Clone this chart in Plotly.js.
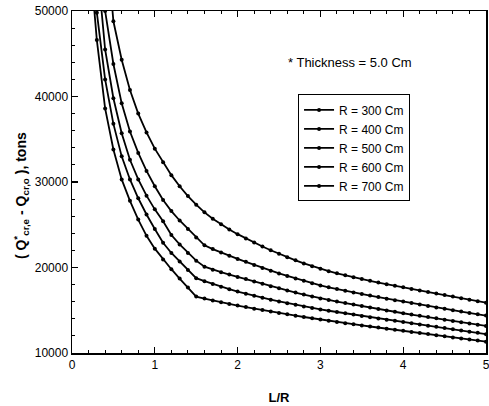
<!DOCTYPE html>
<html>
<head>
<meta charset="utf-8">
<script src="https://cdn.plot.ly/plotly-3.0.1.min.js"></script>
<style>
html, body { margin: 0; padding: 0; background: #fff; }
#chart { width: 489px; height: 406px; }
</style>
</head>
<body>
<div id="chart"></div>
<script>
// L/R values (0.2 .. 5.0, step 0.1)
const LR = [0.2,0.3,0.4,0.5,0.6,0.7,0.8,0.9,1.0,1.1,1.2,1.3,1.4,1.5,1.6,1.7,1.8,1.9,2.0,
  2.1,2.2,2.3,2.4,2.5,2.6,2.7,2.8,2.9,3.0,3.1,3.2,3.3,3.4,3.5,3.6,3.7,3.8,3.9,4.0,
  4.1,4.2,4.3,4.4,4.5,4.6,4.7,4.8,4.9,5.0];

const seriesNames = ["R = 300 Cm", "R = 400 Cm", "R = 500 Cm", "R = 600 Cm", "R = 700 Cm"];

const R300 = [58000,46600,38600,33800,30300,27800,25600,23700,22200,20950,19800,18700,17650,16600,
  16370,16150,15940,15740,15550,15370,15190,15020,14850,14690,14530,14370,14210,14060,13910,
  13770,13630,13490,13360,13230,13100,12970,12840,12720,12600,12470,12340,12210,12080,11950,
  11820,11700,11580,11450,11330];

const R400 = [62000,49800,42000,36800,33000,30300,28100,26200,24500,22900,21700,20700,19700,18750,
  18400,18070,17760,17470,17190,16930,16690,16460,16240,16030,15830,15640,15450,15270,15090,
  14940,14790,14640,14490,14340,14190,14040,13900,13760,13620,13480,13340,13200,13060,12920,
  12780,12640,12500,12360,12200];

const R500 = [null,56000,45500,39800,35700,32600,30300,28400,26800,25400,23800,22700,21700,20800,
  20100,19750,19450,19170,18900,18650,18370,18090,17820,17560,17310,17070,16840,16610,16380,
  16200,16020,15840,15660,15490,15320,15150,14980,14810,14650,14500,14350,14200,14050,13900,
  13750,13600,13450,13300,13160];

const R600 = [null,62000,50000,43800,39200,35900,33400,31300,29500,27900,26600,25500,24500,23500,
  22600,22150,21740,21360,21000,20660,20300,19955,19625,19310,19010,18720,18440,18165,17900,
  17680,17472,17274,17084,16899,16717,16537,16359,16184,16010,15838,15668,15500,15335,15172,
  15010,14850,14692,14535,14380];

const R700 = [null,null,60000,48800,44300,40760,38000,35800,33900,32300,30800,29500,28350,27350,
  26450,25700,25050,24450,23900,23400,22920,22460,22020,21605,21210,20835,20480,20155,19850,
  19570,19315,19080,18860,18650,18445,18245,18050,17865,17684,17499,17316,17134,16953,16773,
  16594,16415,16237,16060,15883];

const allSeries = [R300, R400, R500, R600, R700];

const xTicks = [0, 1, 2, 3, 4, 5];
const yTicks = [10000, 20000, 30000, 40000, 50000];

const FONT = "Liberation Sans, Arial, sans-serif";

const traces = allSeries.map((ys, i) => ({
  x: LR,
  y: ys,
  name: seriesNames[i],
  type: "scatter",
  mode: "lines+markers",
  line: { color: "#000", width: 1.8 },
  marker: { color: "#000", size: 4, symbol: "circle" },
  cliponaxis: true
}));

const layout = {
  width: 489,
  height: 406,
  margin: { l: 72, r: 3, t: 11, b: 53 },
  paper_bgcolor: "#fff",
  plot_bgcolor: "#fff",
  font: { family: FONT, color: "#000", size: 12 },
  showlegend: true,
  legend: {
    x: 0.546, y: 0.756, xanchor: "left", yanchor: "top",
    bordercolor: "#000", borderwidth: 1, bgcolor: "#fff",
    font: { family: FONT, size: 12, color: "#000" },
    tracegroupgap: 0
  },
  xaxis: {
    range: [0, 5],
    tickvals: xTicks,
    ticktext: xTicks.map(String),
    ticklabeloverflow: "allow",
    ticks: "inside", ticklen: 6, tickwidth: 1.2, tickcolor: "#000",
    minor: { dtick: 0.2, ticks: "inside", ticklen: 3, tickwidth: 1, tickcolor: "#000", showgrid: false },
    showline: true, linecolor: "#000", linewidth: 1.5, mirror: "ticks",
    showgrid: false, zeroline: false,
    tickfont: { family: FONT, size: 12, color: "#000" },
    title: { text: "<b>L/R</b>", font: { family: FONT, size: 13, color: "#000" }, standoff: 22 }
  },
  yaxis: {
    range: [10000, 50000],
    tickvals: yTicks,
    ticktext: yTicks.map(String),
    ticks: "inside", ticklen: 6, tickwidth: 1.2, tickcolor: "#000",
    minor: { dtick: 2000, ticks: "inside", ticklen: 3, tickwidth: 1, tickcolor: "#000", showgrid: false },
    showline: true, linecolor: "#000", linewidth: 1.5, mirror: true,
    showgrid: false, zeroline: false,
    tickfont: { family: FONT, size: 12, color: "#000" }
  },
  annotations: [{
    text: "* Thickness = 5.0 Cm",
    xref: "paper", yref: "paper",
    x: 0.671, y: 0.848, xanchor: "center", yanchor: "middle",
    showarrow: false,
    font: { family: FONT, size: 13, color: "#000" }
  }, {
    text: "<b>( Q<sup>*</sup><sub>cr,e</sub> - Q<sub>cr,o</sub> ), tons</b>",
    xref: "paper", yref: "paper",
    x: -0.123, y: 0.459, xanchor: "center", yanchor: "middle",
    textangle: -90,
    showarrow: false,
    font: { family: FONT, size: 14, color: "#000" }
  }]
};

Plotly.newPlot("chart", traces, layout, { displayModeBar: false, staticPlot: true });
</script>
</body>
</html>
